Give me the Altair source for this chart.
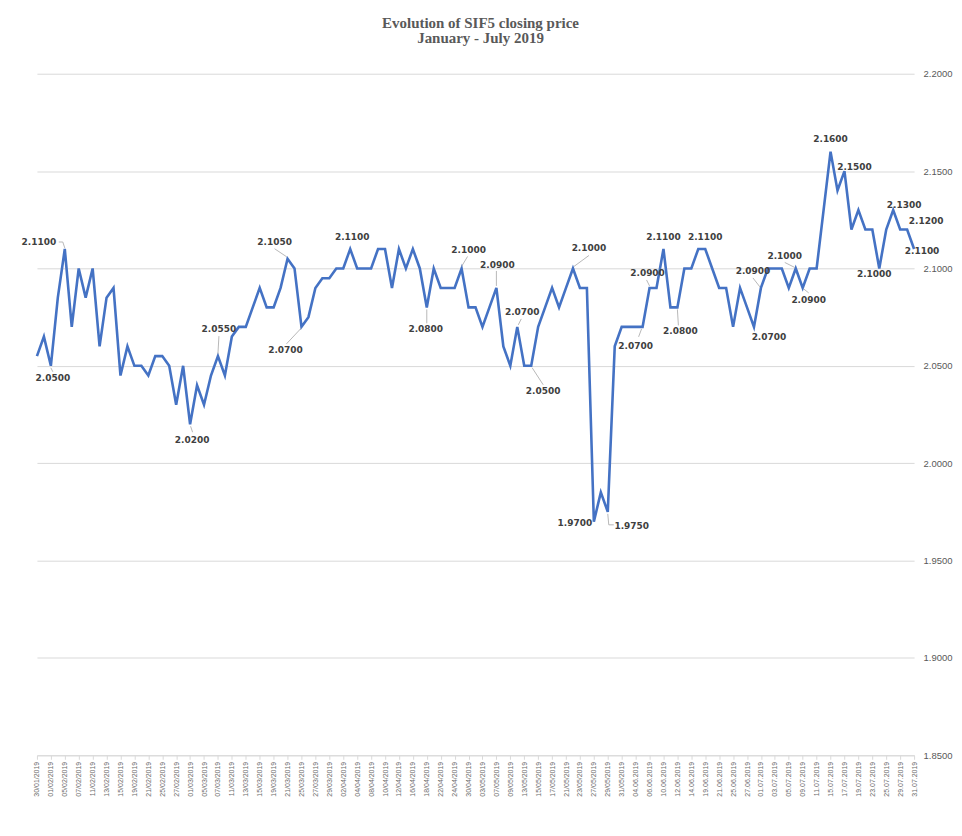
import altair as alt
import pandas as pd

# ---------------- data ----------------
dates = [
    "30/01/2019", "31/01/2019", "01/02/2019", "04/02/2019", "05/02/2019", "06/02/2019", "07/02/2019",
    "08/02/2019", "11/02/2019", "12/02/2019", "13/02/2019", "14/02/2019", "15/02/2019", "18/02/2019",
    "19/02/2019", "20/02/2019", "21/02/2019", "22/02/2019", "25/02/2019", "26/02/2019", "27/02/2019",
    "28/02/2019", "01/03/2019", "04/03/2019", "05/03/2019", "06/03/2019", "07/03/2019", "08/03/2019",
    "11/03/2019", "12/03/2019", "13/03/2019", "14/03/2019", "15/03/2019", "18/03/2019", "19/03/2019",
    "20/03/2019", "21/03/2019", "22/03/2019", "25/03/2019", "26/03/2019", "27/03/2019", "28/03/2019",
    "29/03/2019", "01/04/2019", "02/04/2019", "03/04/2019", "04/04/2019", "05/04/2019", "08/04/2019",
    "09/04/2019", "10/04/2019", "11/04/2019", "12/04/2019", "15/04/2019", "16/04/2019", "17/04/2019",
    "18/04/2019", "19/04/2019", "22/04/2019", "23/04/2019", "24/04/2019", "25/04/2019", "30/04/2019",
    "02/05/2019", "03/05/2019", "06/05/2019", "07/05/2019", "08/05/2019", "09/05/2019", "10/05/2019",
    "13/05/2019", "14/05/2019", "15/05/2019", "16/05/2019", "17/05/2019", "20/05/2019", "21/05/2019",
    "22/05/2019", "23/05/2019", "24/05/2019", "27/05/2019", "28/05/2019", "29/05/2019", "30/05/2019",
    "31/05/2019", "03.06.2019", "04.06.2019", "05.06.2019", "06.06.2019", "07.06.2019", "10.06.2019",
    "11.06.2019", "12.06.2019", "13.06.2019", "14.06.2019", "18.06.2019", "19.06.2019", "20.06.2019",
    "21.06.2019", "24.06.2019", "25.06.2019", "26.06.2019", "27.06.2019", "28.06.2019", "01.07.2019",
    "02.07.2019", "03.07.2019", "04.07.2019", "05.07.2019", "08.07.2019", "09.07.2019", "10.07.2019",
    "11.07.2019", "12.07.2019", "15.07.2019", "16.07.2019", "17.07.2019", "18.07.2019", "19.07.2019",
    "22.07.2019", "23.07.2019", "24.07.2019", "25.07.2019", "26.07.2019", "29.07.2019", "30.07.2019",
    "31.07.2019",
]

close = [
    2.055, 2.065, 2.050, 2.085, 2.110, 2.070, 2.100, 2.085, 2.100, 2.060,
    2.085, 2.090, 2.045, 2.060, 2.050, 2.050, 2.045, 2.055, 2.055, 2.050,
    2.030, 2.050, 2.020, 2.040, 2.030, 2.045, 2.055, 2.045, 2.065, 2.070,
    2.070, 2.080, 2.090, 2.080, 2.080, 2.090, 2.105, 2.100, 2.070, 2.075,
    2.090, 2.095, 2.095, 2.100, 2.100, 2.110, 2.100, 2.100, 2.100, 2.110,
    2.110, 2.090, 2.110, 2.100, 2.110, 2.100, 2.080, 2.100, 2.090, 2.090,
    2.090, 2.100, 2.080, 2.080, 2.070, 2.080, 2.090, 2.060, 2.050, 2.070,
    2.050, 2.050, 2.070, 2.080, 2.090, 2.080, 2.090, 2.100, 2.090, 2.090,
    1.970, 1.985, 1.975, 2.060, 2.070, 2.070, 2.070, 2.070, 2.090, 2.090,
    2.110, 2.080, 2.080, 2.100, 2.100, 2.110, 2.110, 2.100, 2.090, 2.090,
    2.070, 2.090, 2.080, 2.070, 2.090, 2.100, 2.100, 2.100, 2.090, 2.100,
    2.090, 2.100, 2.100, 2.130, 2.160, 2.140, 2.150, 2.120, 2.130, 2.120,
    2.120, 2.100, 2.120, 2.130, 2.120, 2.120, 2.110,
]

y_ticks = [1.85, 1.90, 1.95, 2.00, 2.05, 2.10, 2.15, 2.20]

# labelled points (index into the series)
labelled = [4, 2, 22, 26, 36, 38, 45, 56, 61, 66, 69, 71, 77, 80, 82, 87, 88, 90,
            92, 95, 103, 104, 109, 110, 114, 116, 121, 123, 125, 126]

# ---------------- layout / style ----------------
W, H = 879, 683
Y_MIN, Y_MAX = 1.85, 2.20
X_MAX = len(dates) - 1
PXX = W / X_MAX
PXY = H / (Y_MAX - Y_MIN)

# label placement (pixel offsets from the point, y downwards) and leader polylines
placement = {
    4: (-26, -7, [(-6, -7), (-2, -7), (0, -1)]),
    2: (2, 12, [(0, 2), (2, 6)]),
    22: (2, 16, [(0.5, 2), (2.5, 8)]),
    26: (1, -27, [(1, -20), (0, -2)]),
    36: (-13, -17, [(-13, -10), (-1, -2)]),
    38: (-16, 23, [(-15, 17), (0, 1)]),
    45: (2, -12, []),
    56: (-1, 22, [(0, 16), (0, 2)]),
    61: (7, -18, [(6, -12), (0, -2)]),
    66: (1, -23, [(0, -17), (0, -2)]),
    69: (5, -15, [(4, -8), (1, -2)]),
    71: (12, 25, [(1, 2), (12, 19)]),
    77: (16, -20, [(16, -13), (1, -2)]),
    80: (-19, 1, []),
    82: (24, 14, [(0, 2), (1, 13), (6, 13)]),
    87: (-7, 19, [(-4, 10), (-1, 2)]),
    88: (-2, -15, [(-3, -8), (0, -2)]),
    90: (0, -12, []),
    92: (3, 24, [(1, 18), (0, 2)]),
    95: (7, -12, []),
    103: (15, 10, []),
    104: (-8, -17, [(-8, -10), (-1, -1)]),
    109: (-11, -12, [(-11, -6), (-1, -1)]),
    110: (6, 12, [(1, 1), (6, 5)]),
    114: (0, -13, []),
    116: (10, -4, []),
    121: (-5, 6, []),
    123: (11, -5, []),
    125: (19, -9, []),
    126: (8, 2, []),
}

# ---------------- tables ----------------
df = pd.DataFrame({"i": list(range(len(close))), "v": close})

lab_rows, seg_rows = [], []
for idx in labelled:
    dx, dy, leader = placement[idx]
    v = close[idx]
    lab_rows.append({"lx": idx + dx / PXX, "ly": v - dy / PXY, "v": v})
    for (ax, ay), (bx, by) in zip(leader[:-1], leader[1:]):
        seg_rows.append({"sx": idx + ax / PXX, "sy": v - ay / PXY,
                         "sx2": idx + bx / PXX, "sy2": v - by / PXY})
lab_df = pd.DataFrame(lab_rows)
seg_df = pd.DataFrame(seg_rows)

label_expr = "[" + ",".join("'" + d + "'" for d in dates) + "][datum.value]"

xscale = alt.Scale(domain=[0, X_MAX], nice=False, zero=False)
yscale = alt.Scale(domain=[Y_MIN, Y_MAX], nice=False, zero=False)

x_axis = alt.Axis(
    values=list(range(0, len(dates), 2)), tickCount=500, labelExpr=label_expr, labelAngle=270,
    labelFont="Liberation Sans Narrow, Arial Narrow, Liberation Sans", labelFontSize=7,
    labelColor="#6b6b6b", grid=False, domainColor="#d9d9d9", tickColor="#d9d9d9",
    tickSize=4, labelPadding=2, labelOverlap=False, labelFlush=False, title=None,
)
y_axis = alt.Axis(
    orient="right", values=y_ticks, tickCount=50, format=".4f", labelFont="Liberation Sans",
    labelFontSize=9.5, labelColor="#595959", domain=False, ticks=False, labelPadding=9,
    gridColor="#d9d9d9", gridWidth=1, title=None,
)

line = alt.Chart(df).mark_line(color="#4472C4", strokeWidth=2.6).encode(
    x=alt.X("i:Q", scale=xscale, axis=x_axis, title=None),
    y=alt.Y("v:Q", scale=yscale, axis=y_axis, title=None),
)

leaders = alt.Chart(seg_df).mark_rule(color="#a6a6a6", strokeWidth=0.8).encode(
    x=alt.X("sx:Q", scale=xscale, title=None),
    y=alt.Y("sy:Q", scale=yscale, title=None),
    x2="sx2:Q",
    y2="sy2:Q",
)

labels = alt.Chart(lab_df).mark_text(
    font="DejaVu Sans", fontWeight="bold", fontSize=9, color="#404040",
    align="center", baseline="middle",
).encode(
    x=alt.X("lx:Q", scale=xscale, title=None),
    y=alt.Y("ly:Q", scale=yscale, title=None),
    text=alt.Text("v:Q", format=".4f"),
)

chart = alt.layer(line, leaders, labels).properties(
    width=W, height=H,
    title=alt.TitleParams(
        text="Evolution of SIF5 closing price", subtitle="January - July 2019",
        font="Liberation Serif", fontSize=15, fontWeight="bold", color="#595959",
        subtitleFont="Liberation Serif", subtitleFontSize=15, subtitleFontWeight="bold",
        subtitleColor="#595959", subtitlePadding=0, anchor="middle", offset=23, dx=5,
    ),
    autosize=alt.AutoSizeParams(type="none"),
    padding={"left": 29, "top": 65, "right": 40, "bottom": 66},
).configure_view(stroke=None)

chart.save("out.html", embed_options={"renderer": "svg", "actions": False})
